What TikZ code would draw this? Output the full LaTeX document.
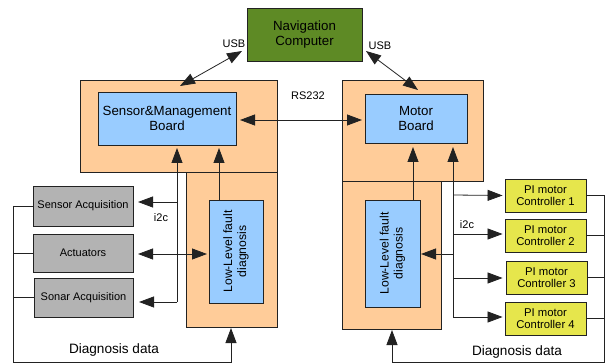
\documentclass[tikz,border=0pt]{standalone}
\usepackage{fontspec}
\setmainfont{Liberation Sans}
\usetikzlibrary{arrows.meta,calc}
\definecolor{navgreen}{HTML}{5E8A25}
\definecolor{orangebg}{HTML}{FFCC99}
\definecolor{bluebg}{HTML}{99CCFF}
\definecolor{graybg}{HTML}{B3B3B3}
\definecolor{yellowbg}{HTML}{E6E64C}
\definecolor{linec}{HTML}{222222}
\tikzset{
  boxbase/.style={draw=linec, line width=0.9pt, inner sep=0pt, align=center, text=black},
  navbox/.style={boxbase, fill=navgreen, font=\fontsize{13.3}{15}\selectfont},
  outerbox/.style={boxbase, fill=orangebg},
  boardbox/.style={boxbase, fill=bluebg, font=\fontsize{13.3}{15}\selectfont},
  llbox/.style={boxbase, fill=bluebg, font=\fontsize{12.2}{14}\selectfont},
  graybox/.style={boxbase, fill=graybg, font=\fontsize{11}{13}\selectfont},
  pibox/.style={boxbase, fill=yellowbg, font=\fontsize{11.3}{12.5}\selectfont},
  conn/.style={draw=linec, line width=0.8pt},
  arr/.style={conn, -{Triangle[length=15pt,width=11pt]}},
  darr/.style={conn, {Triangle[length=15pt,width=11pt]}-{Triangle[length=15pt,width=11pt]}},
  smalllbl/.style={font=\fontsize{11}{13}\selectfont, inner sep=0pt},
  biglbl/.style={font=\fontsize{13.6}{15}\selectfont, inner sep=0pt},
}
\begin{document}
\begin{tikzpicture}[x=1pt,y=-1pt]
\useasboundingbox (0,0) rectangle (612,363);
% outer boxes
\node[outerbox, minimum width=197pt, minimum height=92pt] (smOuter) at (178.5,126) {};
\node[outerbox, minimum width=91pt, minimum height=155pt] (llOuterL) at (231.5,249.5) {};
\node[outerbox, minimum width=141pt, minimum height=101pt] (mOuter) at (412.5,130.5) {};
\node[outerbox, minimum width=99pt, minimum height=148pt] (llOuterR) at (391.5,255) {};
% inner boxes
\node[navbox, minimum width=115pt, minimum height=53pt] (nav) at (304.5,34.5) {Navigation\\Computer};
\node[boardbox, minimum width=138pt, minimum height=53pt] (sm) at (167,118.5) {Sensor\&Management\\Board};
\node[boardbox, minimum width=102pt, minimum height=49pt] (mb) at (416,118.5) {Motor\\Board};
\node[llbox, minimum width=54pt, minimum height=103pt] (llL) at (236,251.5) {};
\node[rotate=90, font=\fontsize{12.2}{14}\selectfont, align=center] (llLt) at (llL) {Low-Level fault\\diagnosis};
\node[llbox, minimum width=55pt, minimum height=107pt] (llR) at (392.5,253.5) {};
\node[rotate=90, font=\fontsize{12.2}{14}\selectfont, align=center] (llRt) at (llR) {Low-Level fault\\diagnosis};
\node[graybox, minimum width=100pt, minimum height=40pt] (sa) at (83,206) {Sensor Acquisition};
\node[graybox, minimum width=100pt, minimum height=38pt] (act) at (83,253) {Actuators};
\node[graybox, minimum width=99pt, minimum height=39pt] (sonar) at (83.5,297.5) {Sonar Acquisition};
\node[pibox, minimum width=81pt, minimum height=33pt] (pi1) at (545.5,195.5) {PI motor\\Controller 1};
\node[pibox, minimum width=81pt, minimum height=33pt] (pi2) at (545.5,235.5) {PI motor\\Controller 2};
\node[pibox, minimum width=81pt, minimum height=33pt] (pi3) at (546.5,277.5) {PI motor\\Controller 3};
\node[pibox, minimum width=81pt, minimum height=33pt] (pi4) at (545.5,318.5) {PI motor\\Controller 4};
% labels
\node[smalllbl] (usbL) at (234,44) {USB};
\node[smalllbl] (usbR) at (380,46) {USB};
\node[smalllbl] (rs) at (308,96) {RS232};
\node[smalllbl] (i2cL) at (161,218) {i2c};
\node[smalllbl] (i2cR) at (467,225) {i2c};
\node[biglbl] (ddL) at (114,350) {Diagnosis data};
\node[biglbl] (ddR) at (517,352) {Diagnosis data};
% coordinates
\coordinate (usbLa) at (180,86);
\coordinate (usbLb) at (242,51);
\coordinate (usbRa) at (366,51);
\coordinate (usbRb) at (418,90);
\coordinate (rsa) at (240,120);
\coordinate (rsb) at (362,120);
\coordinate (busL) at (177,302);
\coordinate (busLtop) at (177,148);
\coordinate (busLsa) at (177,202);
\coordinate (busLsaT) at (138,202);
\coordinate (busLsoT) at (139,302);
\coordinate (llLup) at (219,148);
\coordinate (llLtop) at (219,200);
\coordinate (actA) at (138,254);
\coordinate (actB) at (207,254);
\coordinate (fbL1) at (13,206);
\coordinate (fbLb) at (13,362);
\coordinate (fbLc) at (231,362);
\coordinate (fbLt) at (231,328);
\coordinate (llRtop) at (413,200);
\coordinate (llRup) at (413,147);
\coordinate (busR) at (453,318);
\coordinate (busRtop) at (453,147);
\coordinate (bR1) at (453,195);
\coordinate (bR2) at (453,234);
\coordinate (bR3) at (453,278);
\coordinate (bR4) at (453,317);
\coordinate (bRll) at (453,254);
\coordinate (bRllT) at (421,254);
\coordinate (fbR1) at (604,196);
\coordinate (fbRb) at (604,362);
\coordinate (fbRc) at (392,362);
\coordinate (fbRt) at (392,330);
% connectors
\draw[darr] (usbLa) -- (usbLb);
\draw[darr] (usbRa) -- (usbRb);
\draw[darr] (rsa) -- (rsb);
\draw[arr] (busL) -- (busLtop);
\draw[arr] (busLsa) -- (busLsaT);
\draw[arr] (busL) -- (busLsoT);
\draw[arr] (llLtop) -- (llLup);
\draw[darr] (actA) -- (actB);
\draw[conn] (sa.west) -- (sa.west -| fbL1);
\draw[conn] (act.west) -- (act.west -| fbL1);
\draw[conn] (sonar.west) -- (sonar.west -| fbL1);
\draw[arr] (fbL1) -- (fbLb) -- (fbLc) -- (fbLt);
\draw[arr] (llRtop) -- (llRup);
\draw[arr] (busR) -- (busRtop);
\draw[arr] (bR1) -- ($(pi1.west)+(-2,0)$);
\draw[arr] (bR2) -- ($(pi2.west)+(-2,-1.5)$);
\draw[arr] (bR3) -- ($(pi3.west)+(-3,0.5)$);
\draw[arr] (bR4) -- ($(pi4.west)+(-2,-1.5)$);
\draw[arr] (bRll) -- (bRllT);
\draw[conn] (pi1.east) -- (pi1.east -| fbR1);
\draw[conn] (pi2.east) -- (pi2.east -| fbR1);
\draw[conn] (pi3.east) -- (pi3.east -| fbR1);
\draw[conn] (pi4.east) -- (pi4.east -| fbR1);
\draw[arr] (pi1.east -| fbR1) -- (fbRb) -- (fbRc) -- (fbRt);
\end{tikzpicture}
\end{document}
